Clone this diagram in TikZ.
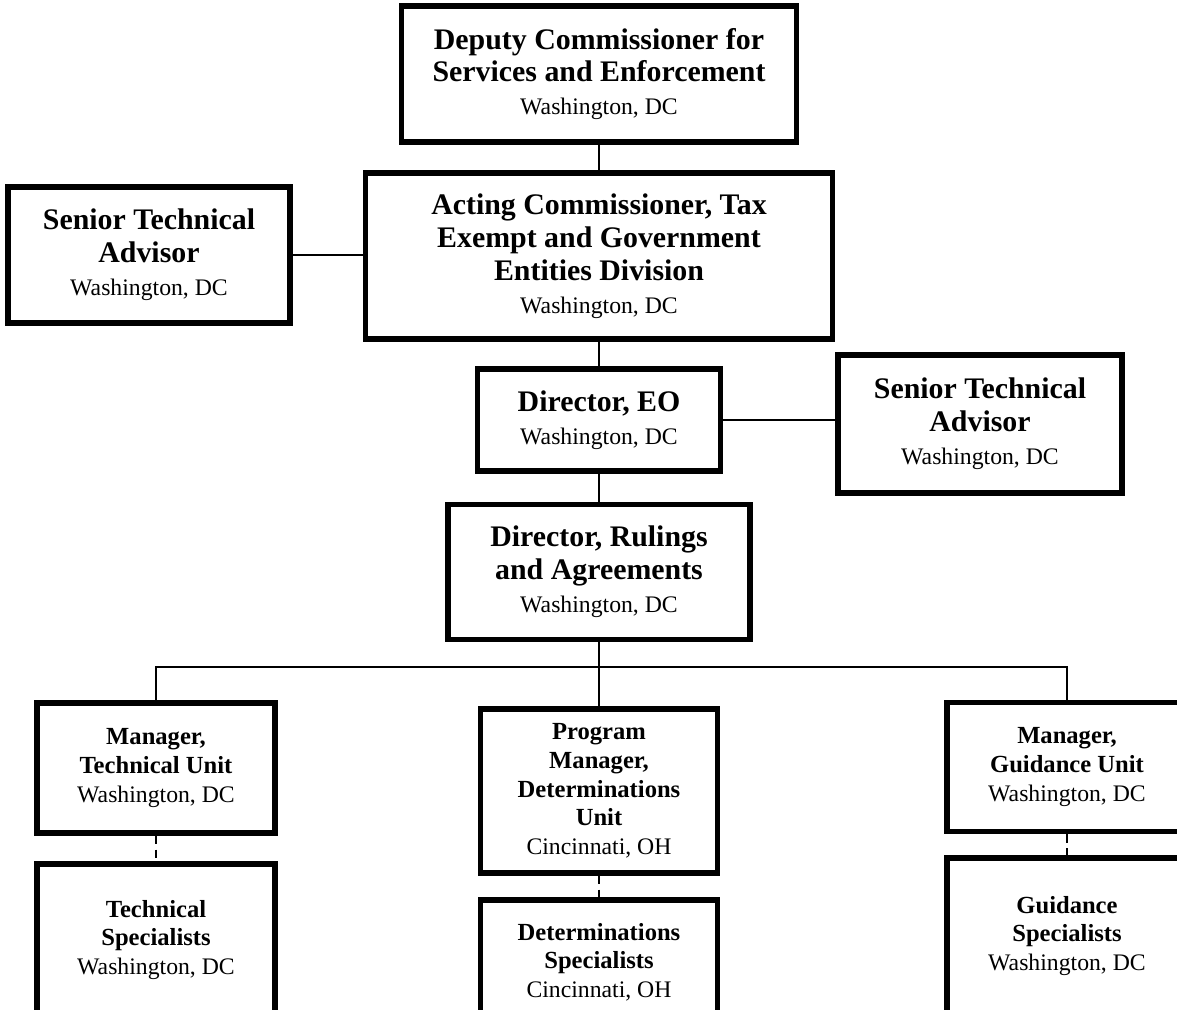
\documentclass[tikz,border=0pt]{standalone}
\usepackage{fontspec}
\setmainfont{Liberation Serif}
\usepackage{tikz}
\usetikzlibrary{positioning}

\newcommand{\placename}[1]{{\fontsize{13.5}{16}\selectfont\mdseries #1}}

\tikzset{
    unitbox/.style={rectangle, draw, line width=2.9pt, align=center, inner sep=0pt},
    boxsize/.style 2 args={minimum width=#1*0.02cm, minimum height=#2*0.02cm},
    bigbox/.style={unitbox, font=\fontsize{17}{18.7}\selectfont\bfseries},
    smallbox/.style={unitbox, font=\fontsize{14}{16.3}\selectfont\bfseries},
    link/.style={line width=1.6pt},
    dashlink/.style={line width=1.6pt, dash pattern=on 5pt off 3pt},
}

\begin{document}
\begin{tikzpicture}[x=0.02cm, y=-0.02cm]
    \clip (0,0) rectangle (1177,1009);
    \fill[white] (0,0) rectangle (1177,1009);

    % Nodes
    \node [bigbox, boxsize={395}{136}] (deputy) at (599,74) {Deputy Commissioner for\\Services and Enforcement\\\placename{Washington, DC}};
    \node [bigbox, boxsize={467}{166}] (acting) at (599,256) {Acting Commissioner, Tax\\Exempt and Government\\Entities Division\\\placename{Washington, DC}};
    \node [bigbox, boxsize={282}{136}] (advleft) at (149,255) {Senior Technical\\Advisor\\\placename{Washington, DC}};
    \node [bigbox, boxsize={243}{102}] (eo) at (599,420) {Director, EO\\\placename{Washington, DC}};
    \node [bigbox, boxsize={284}{138}] (advright) at (980,424) {Senior Technical\\Advisor\\\placename{Washington, DC}};
    \node [bigbox, boxsize={302}{135}] (rulings) at (599,572) {Director, Rulings\\and Agreements\\\placename{Washington, DC}};

    \node [smallbox, boxsize={238}{130}] (mgrtech) at (156,768) {Manager,\\Technical Unit\\\placename{Washington, DC}};
    \node [smallbox, boxsize={238}{152}] (spectech) at (156,940) {Technical\\Specialists\\\placename{Washington, DC}};
    \node [smallbox, boxsize={237}{164}] (mgrprog) at (599,791) {Program\\Manager,\\Determinations\\Unit\\\placename{Cincinnati, OH}};
    \node [smallbox, boxsize={237}{124}] (specdet) at (599,962) {Determinations\\Specialists\\\placename{Cincinnati, OH}};
    \node [smallbox, boxsize={240}{129}] (mgrguid) at (1067,767) {Manager,\\Guidance Unit\\\placename{Washington, DC}};
    \node [smallbox, boxsize={240}{156}] (specguid) at (1067,936) {Guidance\\Specialists\\\placename{Washington, DC}};

    \coordinate (bus) at (599,667);

    % Path
    \draw [link] (deputy) -- (acting);
    \draw [link] (advleft.east) -- (advleft.east -| acting.west);
    \draw [link] (acting) -- (eo);
    \draw [link] (eo.east) -- (eo.east -| advright.west);
    \draw [link] (eo) -- (rulings);
    \draw [link] (rulings) -- (mgrprog);
    \draw [link] (mgrtech.north) -- (mgrtech.north |- bus) -- (mgrguid.north |- bus) -- (mgrguid.north);
    \draw [dashlink] (mgrtech) -- (spectech);
    \draw [dashlink] (mgrprog) -- (specdet);
    \draw [dashlink] (mgrguid) -- (specguid);
\end{tikzpicture}
\end{document}
